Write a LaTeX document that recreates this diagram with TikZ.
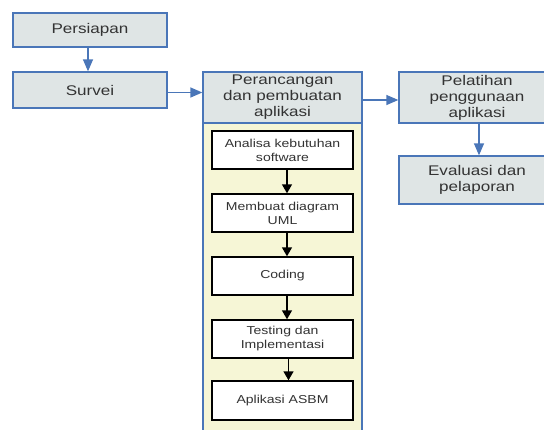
\documentclass[tikz,border=0pt]{standalone}
\usepackage{fontspec}
\setmainfont[FakeStretch=1.22]{Liberation Sans}
\usetikzlibrary{arrows.meta}
\definecolor{bblue}{HTML}{4A76B8}
\definecolor{hfill}{HTML}{DFE5E5}
\definecolor{yfill}{HTML}{F6F6D6}
\definecolor{tgray}{HTML}{333333}
\tikzset{
  outerbox/.style={draw=bblue, line width=1.3pt, fill=hfill, text=tgray, inner sep=0pt, align=center,
    font=\fontsize{14}{16}\selectfont},
  innerbox/.style={draw=black, line width=1.4pt, fill=white, text=tgray, inner sep=0pt, align=center,
    minimum width=141pt, minimum height=38pt, font=\fontsize{11.5}{14}\selectfont},
  barrow/.style={draw=bblue, line width=1.3pt, -{Triangle[length=12pt,width=10pt]}},
  karrow/.style={draw=black, line width=1.4pt, -{Triangle[length=9pt,width=10pt]}}
}
\begin{document}
\begin{tikzpicture}[x=1pt,y=-1pt]
\useasboundingbox (0,0) rectangle (544,429);
% container
\fill[yfill] (203,123) rectangle (362,445);
\draw[bblue, line width=1.3pt] (203,123) -- (203,445) (362,123) -- (362,445);
\node[outerbox, minimum width=154pt, minimum height=34pt] (pers) at (90,30) {Persiapan};
\node[outerbox, minimum width=154pt, minimum height=36pt] (surv) at (90,90) {Survei};
\node[outerbox, minimum width=159pt, minimum height=51pt] (head) at (282.5,97.5) {Perancangan\\dan pembuatan\\aplikasi};
\node[outerbox, minimum width=156pt, minimum height=51pt] (pel) at (477,97.5) {Pelatihan\\penggunaan\\aplikasi};
\node[outerbox, minimum width=156pt, minimum height=48pt] (eval) at (477,180) {Evaluasi dan\\pelaporan};
\node[innerbox] (anal) at (282.5,150) {Analisa kebutuhan\\software};
\node[innerbox] (uml) at (282.5,213) {Membuat diagram\\UML};
\node[innerbox] (cod) at (282.5,276) {Coding};
\node[innerbox] (test) at (282.5,339) {Testing dan\\Implementasi};
\node[innerbox, minimum height=39pt] (asbm) at (282.5,400.5) {Aplikasi ASBM};
% blue arrows
\draw[barrow] ([xshift=-2pt]pers.south) -- ([xshift=-2pt]surv.north);
\draw[barrow] ([yshift=-2.5pt]surv.east) -- ([yshift=-2.5pt]surv.east -| head.west);
\draw[barrow] ([yshift=-2.5pt]head.east) -- ([yshift=-2.5pt]pel.west);
\draw[barrow] ([xshift=2pt]pel.south) -- ([xshift=2pt]eval.north);
% black arrows
\draw[karrow] ([xshift=4.5pt]anal.south) -- ([xshift=4.5pt]uml.north);
\draw[karrow] ([xshift=4.5pt]uml.south) -- ([xshift=4.5pt]cod.north);
\draw[karrow] ([xshift=4.5pt]cod.south) -- ([xshift=4.5pt]test.north);
\draw[karrow] ([xshift=6pt]test.south) -- ([xshift=6pt]asbm.north);
\end{tikzpicture}
\end{document}
